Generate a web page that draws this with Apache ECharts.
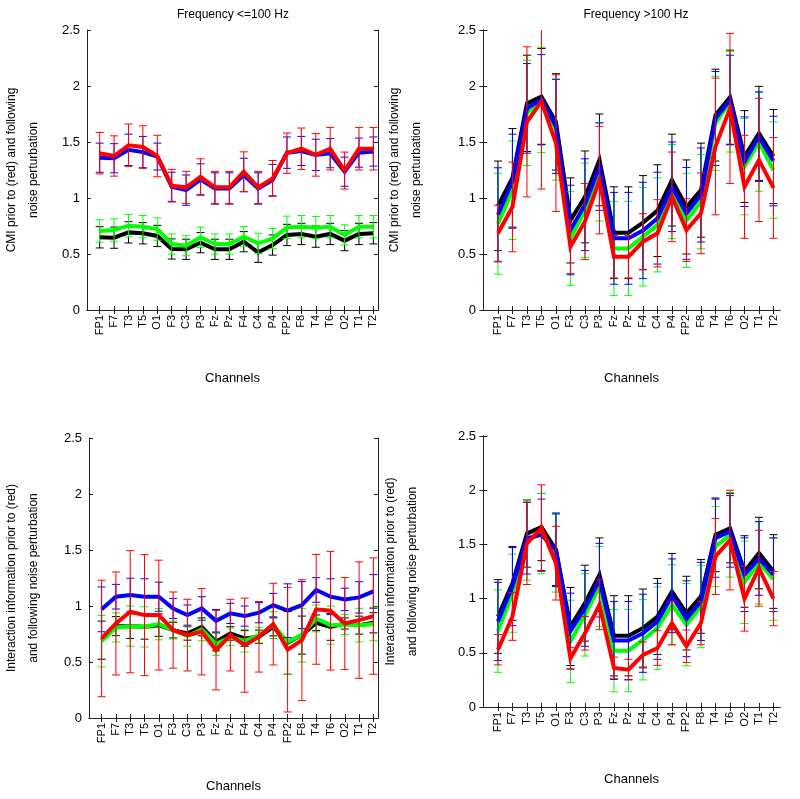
<!DOCTYPE html>
<html>
<head>
<meta charset="utf-8">
<script src="https://cdn.jsdelivr.net/npm/echarts@6/dist/echarts.min.js"></script>
<style>
  html, body { margin: 0; padding: 0; background: #fff; }
  #main { width: 800px; height: 799px; }
</style>
</head>
<body>
<div id="main"></div>
<script>
var channels = ['FP1','F7','T3','T5','O1','F3','C3','P3','Fz','Pz','F4','C4','P4','FP2','F8','T4','T6','O2','T1','T2'];
var yTicks = [0, 0.5, 1, 1.5, 2, 2.5];

// top left: Frequency <=100 Hz, CMI
var tlBlack = [0.649,0.646,0.693,0.685,0.661,0.545,0.542,0.601,0.542,0.542,0.61,0.515,0.58,0.67,0.679,0.655,0.679,0.619,0.679,0.685];
var tlGreen = [0.705,0.714,0.753,0.744,0.723,0.589,0.574,0.649,0.589,0.589,0.655,0.595,0.637,0.738,0.744,0.735,0.744,0.67,0.744,0.744];
var tlBlue  = [1.36,1.355,1.43,1.41,1.37,1.10,1.07,1.165,1.085,1.085,1.205,1.085,1.16,1.405,1.42,1.385,1.40,1.235,1.405,1.415];
var tlRed   = [1.40,1.375,1.47,1.455,1.375,1.11,1.095,1.19,1.095,1.095,1.235,1.095,1.175,1.40,1.44,1.385,1.44,1.245,1.44,1.44];
var tlBlackErr = [0.095,0.095,0.095,0.095,0.095,0.09,0.09,0.09,0.09,0.09,0.09,0.09,0.09,0.095,0.095,0.095,0.095,0.09,0.095,0.095];
var tlGreenErr = [0.10,0.10,0.10,0.10,0.10,0.09,0.09,0.09,0.09,0.09,0.09,0.09,0.09,0.10,0.10,0.10,0.10,0.09,0.10,0.10];
var tlBlueErr  = [0.13,0.13,0.14,0.14,0.12,0.13,0.135,0.14,0.14,0.14,0.15,0.14,0.14,0.14,0.13,0.14,0.13,0.13,0.13,0.13];
var tlRedErr   = [0.185,0.18,0.19,0.19,0.185,0.146,0.143,0.16,0.143,0.143,0.177,0.143,0.16,0.18,0.185,0.19,0.19,0.165,0.19,0.19];

// top right: Frequency >100 Hz, CMI
var trBlack = [0.93,1.18,1.845,1.905,1.68,0.80,1.01,1.34,0.69,0.69,0.78,0.887,1.16,0.92,1.07,1.74,1.90,1.37,1.577,1.37];
var trGreen = [0.77,1.07,1.76,1.875,1.61,0.64,0.89,1.235,0.55,0.55,0.655,0.76,1.057,0.80,0.967,1.667,1.86,1.28,1.50,1.25];
var trBlue  = [0.85,1.15,1.80,1.88,1.64,0.714,0.94,1.28,0.64,0.64,0.71,0.82,1.10,0.863,1.027,1.71,1.875,1.324,1.548,1.33];
var trRed   = [0.685,0.92,1.68,1.86,1.49,0.565,0.79,1.16,0.476,0.476,0.61,0.685,1.01,0.714,0.863,1.46,1.80,1.10,1.34,1.09];
var trBlackErr = [0.40,0.44,0.43,0.43,0.43,0.38,0.41,0.41,0.41,0.41,0.42,0.41,0.41,0.42,0.42,0.41,0.42,0.41,0.42,0.42];
var trGreenErr = [0.45,0.44,0.47,0.47,0.45,0.42,0.42,0.44,0.42,0.42,0.44,0.42,0.42,0.42,0.42,0.42,0.45,0.43,0.44,0.43];
var trBlueErr  = [0.42,0.42,0.40,0.40,0.42,0.40,0.41,0.39,0.41,0.41,0.43,0.41,0.40,0.41,0.42,0.42,0.40,0.40,0.40,0.40];
var trRedErr   = [0.25,0.40,0.67,0.78,0.61,0.24,0.34,0.48,0.19,0.19,0.25,0.30,0.40,0.28,0.36,0.61,0.67,0.46,0.55,0.45];

// bottom left: interaction information, <=100 Hz
var blBlack = [0.695,0.82,0.82,0.814,0.829,0.785,0.755,0.814,0.68,0.755,0.71,0.725,0.814,0.671,0.74,0.85,0.814,0.844,0.829,0.85];
var blGreen = [0.686,0.808,0.82,0.814,0.838,0.785,0.731,0.79,0.66,0.725,0.689,0.74,0.829,0.68,0.74,0.889,0.829,0.835,0.829,0.84];
var blBlue  = [0.97,1.083,1.098,1.083,1.083,0.978,0.919,0.978,0.868,0.934,0.91,0.94,1.008,0.958,1.008,1.143,1.083,1.059,1.077,1.13];
var blRed   = [0.71,0.844,0.949,0.919,0.919,0.785,0.74,0.77,0.606,0.74,0.65,0.725,0.838,0.61,0.695,0.97,0.958,0.844,0.874,0.91];
var blBlackErr = [0.17,0.085,0.11,0.11,0.10,0.07,0.06,0.08,0.08,0.06,0.07,0.06,0.08,0.28,0.17,0.07,0.12,0.05,0.08,0.09];
var blGreenErr = [0.23,0.13,0.18,0.18,0.14,0.08,0.09,0.10,0.10,0.08,0.10,0.07,0.12,0.29,0.24,0.12,0.17,0.09,0.15,0.15];
var blBlueErr  = [0.20,0.11,0.15,0.16,0.13,0.09,0.09,0.105,0.10,0.09,0.09,0.09,0.105,0.24,0.21,0.11,0.16,0.10,0.14,0.15];
var blRedErr   = [0.52,0.46,0.545,0.54,0.49,0.34,0.32,0.385,0.355,0.32,0.42,0.315,0.365,0.556,0.54,0.49,0.53,0.41,0.52,0.52];

// bottom right: interaction information, >100 Hz
var brBlack = [0.835,1.14,1.60,1.66,1.45,0.743,0.958,1.22,0.657,0.657,0.728,0.835,1.066,0.866,1.02,1.588,1.65,1.25,1.42,1.25];
var brGreen = [0.70,1.05,1.54,1.60,1.42,0.605,0.85,1.11,0.52,0.52,0.62,0.728,0.943,0.76,0.927,1.48,1.588,1.15,1.33,1.18];
var brBlue  = [0.79,1.11,1.557,1.588,1.45,0.70,0.91,1.17,0.614,0.614,0.68,0.79,1.026,0.814,0.974,1.557,1.62,1.22,1.37,1.22];
var brRed   = [0.528,0.835,1.51,1.65,1.327,0.45,0.68,0.943,0.36,0.344,0.48,0.544,0.774,0.56,0.774,1.388,1.54,1.0,1.28,1.0];
var brBlackErr = [0.34,0.34,0.31,0.31,0.33,0.36,0.35,0.34,0.37,0.37,0.36,0.35,0.35,0.34,0.34,0.34,0.32,0.33,0.33,0.34];
var brGreenErr = [0.38,0.36,0.37,0.37,0.36,0.38,0.38,0.37,0.38,0.38,0.37,0.38,0.37,0.38,0.38,0.37,0.39,0.38,0.38,0.38];
var brBlueErr  = [0.36,0.36,0.33,0.33,0.34,0.35,0.35,0.34,0.36,0.36,0.36,0.35,0.34,0.35,0.36,0.36,0.33,0.34,0.34,0.34];
var brRedErr   = [0.14,0.22,0.38,0.40,0.34,0.10,0.155,0.23,0.10,0.095,0.12,0.16,0.20,0.15,0.20,0.35,0.46,0.30,0.35,0.25];

var FONT = '"Liberation Sans", Arial, Helvetica, sans-serif';
var cmiName = 'CMI prior to (red) and following\nnoise perturbation';
var iiName = 'Interaction information prior to (red)\nand following noise perturbation';

var panels = [
  { grid: {left: 79, top: 30, width: 299, height: 280}, xmin: 0.12, xmax: 20.32, yname: cmiName, ygap: 42, xgap: 62,
    lines: [tlBlack, tlGreen, tlBlue, tlRed], errs: [tlBlackErr, tlGreenErr, tlBlueErr, tlRedErr] },
  { grid: {left: 483, top: 30, width: 297, height: 280}, xmin: -0.03, xmax: 20.45, yname: cmiName, ygap: 55, xgap: 62,
    lines: [trBlack, trGreen, trBlue, trRed], errs: [trBlackErr, trGreenErr, trBlueErr, trRedErr] },
  { grid: {left: 79, top: 438, width: 299, height: 280}, xmin: 0.12, xmax: 20.32, yname: iiName, ygap: 44, xgap: 62,
    lines: [blBlack, blGreen, blBlue, blRed], errs: [blBlackErr, blGreenErr, blBlueErr, blRedErr] },
  { grid: {left: 483, top: 436, width: 297, height: 271}, xmin: -0.03, xmax: 20.45, yname: iiName, ygap: 59, xgap: 66,
    lines: [brBlack, brGreen, brBlue, brRed], errs: [brBlackErr, brGreenErr, brBlueErr, brRedErr] }
];
var colors = ['#000000', '#00ff00', '#0000ff', '#ff0000'];
var tickIdx = channels.map(function (c, i) { return i + 1; });

var grids = [], xAxes = [], yAxes = [], series = [];
var axisLine = { show: true, lineStyle: { color: '#222', width: 1 } };
panels.forEach(function (p, k) {
  grids.push(p.grid);
  // bottom x axis with channel labels
  xAxes.push({
    type: 'value', gridIndex: k, position: 'bottom', min: p.xmin, max: p.xmax,
    axisLine: axisLine, splitLine: { show: false },
    axisTick: { inside: true, length: 4, customValues: tickIdx, lineStyle: { color: '#222' } },
    axisLabel: { customValues: tickIdx, rotate: 90, margin: 5, fontSize: 11, color: '#000', fontFamily: FONT,
      formatter: function (v) { return channels[Math.round(v) - 1] || ''; } },
    name: 'Channels', nameLocation: 'middle', nameGap: p.xgap,
    nameTextStyle: { fontSize: 13, color: '#000', fontFamily: FONT }
  });
  // top x axis (box + ticks)
  xAxes.push({
    type: 'value', gridIndex: k, position: 'top', min: p.xmin, max: p.xmax,
    axisLine: axisLine, splitLine: { show: false },
    axisTick: { inside: true, length: 4, customValues: tickIdx, lineStyle: { color: '#222' } },
    axisLabel: { show: false }
  });
  yAxes.push({
    type: 'value', gridIndex: k, position: 'left', min: 0, max: 2.5, interval: 0.5,
    axisLine: axisLine, splitLine: { show: false },
    axisTick: { inside: true, length: 4, lineStyle: { color: '#222' } },
    axisLabel: { fontSize: 13, color: '#000', fontFamily: FONT, margin: 7,
      formatter: function (v) { return String(v); } },
    name: p.yname, nameLocation: 'middle', nameGap: p.ygap, nameRotate: 90,
    nameTextStyle: { fontSize: 12, color: '#000', fontFamily: FONT, lineHeight: 22, align: 'center' }
  });
  yAxes.push({
    type: 'value', gridIndex: k, position: 'right', min: 0, max: 2.5, interval: 0.5,
    axisLine: axisLine, splitLine: { show: false },
    axisTick: { inside: true, length: 4, lineStyle: { color: '#222' } },
    axisLabel: { show: false }
  });
  p.lines.forEach(function (vals, c) {
    var col = colors[c];
    var errData = vals.map(function (v, i) { return [i + 1, v - p.errs[c][i], v + p.errs[c][i]]; });
    series.push({
      type: 'custom', xAxisIndex: 2 * k, yAxisIndex: 2 * k, clip: true, silent: true, z: 2 + c,
      data: errData,
      renderItem: function (params, api) {
        var x = api.value(0);
        var a = api.coord([x, api.value(1)]);
        var b = api.coord([x, api.value(2)]);
        var st = { stroke: col, lineWidth: 1 };
        return { type: 'group', children: [
          { type: 'line', shape: { x1: a[0], y1: a[1], x2: b[0], y2: b[1] }, style: st },
          { type: 'line', shape: { x1: a[0] - 4, y1: a[1], x2: a[0] + 4, y2: a[1] }, style: st },
          { type: 'line', shape: { x1: b[0] - 4, y1: b[1], x2: b[0] + 4, y2: b[1] }, style: st }
        ] };
      }
    });
    series.push({
      type: 'line', xAxisIndex: 2 * k, yAxisIndex: 2 * k, z: 2 + c, silent: true,
      symbol: 'none', animation: false,
      lineStyle: { color: col, width: 4, join: 'miter' },
      data: vals.map(function (v, i) { return [i + 1, v]; })
    });
  });
});

var myChart = echarts.init(document.getElementById('main'));
var option = {
  backgroundColor: '#fff',
  animation: false,
  title: [
    { text: 'Frequency <=100 Hz', left: 228, top: 4, textAlign: 'center',
      textStyle: { fontSize: 12, fontWeight: 'normal', color: '#000', fontFamily: FONT } },
    { text: 'Frequency >100 Hz', left: 631, top: 4, textAlign: 'center',
      textStyle: { fontSize: 12, fontWeight: 'normal', color: '#000', fontFamily: FONT } }
  ],
  grid: grids,
  xAxis: xAxes,
  yAxis: yAxes,
  series: series
};
myChart.setOption(option);
</script>
</body>
</html>
